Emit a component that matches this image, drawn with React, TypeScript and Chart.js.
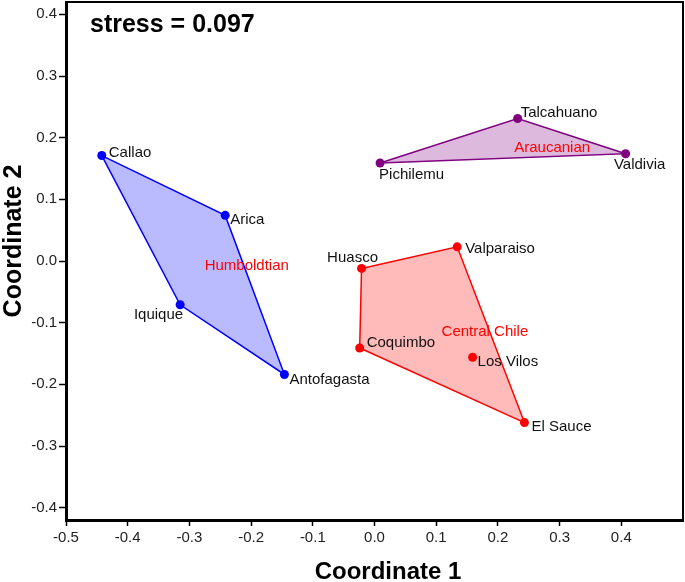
import React, { useEffect, useRef } from 'react';
import { Chart, registerables } from 'chart.js';

Chart.register(...registerables);

// ---------- data ----------
const siteNames = ['Callao', 'Arica', 'Iquique', 'Antofagasta', 'Huasco', 'Valparaiso', 'Coquimbo', 'Los Vilos', 'El Sauce', 'Pichilemu', 'Talcahuano', 'Valdivia'];
const coord1 = [-0.442, -0.242, -0.315, -0.146, -0.021, 0.134, -0.024, 0.159, 0.243, 0.009, 0.232, 0.407];
const coord2 = [0.171, 0.074, -0.071, -0.184, -0.012, 0.023, -0.141, -0.156, -0.262, 0.159, 0.231, 0.174];
const siteGroup = ['Humboldtian', 'Humboldtian', 'Humboldtian', 'Humboldtian', 'Central Chile', 'Central Chile', 'Central Chile', 'Central Chile', 'Central Chile', 'Araucanian', 'Araucanian', 'Araucanian'];

const groupNames = ['Humboldtian', 'Central Chile', 'Araucanian'];
const hullHumboldtian = ['Callao', 'Arica', 'Antofagasta', 'Iquique'];
const hullCentralChile = ['Huasco', 'Valparaiso', 'El Sauce', 'Coquimbo'];
const hullAraucanian = ['Pichilemu', 'Talcahuano', 'Valdivia'];
const groupLabelX = [-0.207, 0.179, 0.288];
const groupLabelY = [-0.008, -0.115, 0.183];

const xTicks = [-0.5, -0.4, -0.3, -0.2, -0.1, 0.0, 0.1, 0.2, 0.3, 0.4];
const yTicks = [-0.4, -0.3, -0.2, -0.1, 0.0, 0.1, 0.2, 0.3, 0.4];
const stressValue = 0.097;
const xTitle = 'Coordinate 1';
const yTitle = 'Coordinate 2';

// ---------- styles ----------
const groupColors = ['#0000FF', '#FF0000', '#800080'];
const groupFills = ['rgba(0,0,255,0.27)', 'rgba(255,0,0,0.27)', 'rgba(128,0,128,0.27)'];
// label placement per site: [dx, dy, align]
const labelPlacement: Record<string, [number, number, CanvasTextAlign]> = {
  Callao: [7, -3, 'left'],
  Arica: [5, 4, 'left'],
  Iquique: [3, 10, 'right'],
  Antofagasta: [5, 5, 'left'],
  Huasco: [-9, -11, 'center'],
  Valparaiso: [8, 2, 'left'],
  Coquimbo: [7, -5, 'left'],
  'Los Vilos': [5, 5, 'left'],
  'El Sauce': [7, 4, 'left'],
  Pichilemu: [-1, 12, 'left'],
  Talcahuano: [3, -6, 'left'],
  Valdivia: [14, 11, 'center'],
};

const FONT = '"Liberation Sans", Arial, Helvetica, sans-serif';

const hulls = [hullHumboldtian, hullCentralChile, hullAraucanian];

function pt(name: string) {
  const i = siteNames.indexOf(name);
  return { x: coord1[i], y: coord2[i] };
}

function zeroPad(s: any) {
  s.paddingTop = 0;
  s.paddingBottom = 0;
  s.paddingLeft = 0;
  s.paddingRight = 0;
}

const overlayPlugin = {
  id: 'overlay',
  afterDatasetsDraw(chart: any) {
    const { ctx, chartArea, scales } = chart;
    const xs = scales.x;
    const ys = scales.y;
    ctx.save();
    // top and right frame lines
    ctx.strokeStyle = '#000';
    ctx.lineWidth = 2;
    ctx.beginPath();
    ctx.moveTo(chartArea.left, chartArea.top);
    ctx.lineTo(chartArea.right, chartArea.top);
    ctx.lineTo(chartArea.right, chartArea.bottom);
    ctx.stroke();

    // site labels
    ctx.font = `15px ${FONT}`;
    ctx.fillStyle = '#111';
    ctx.textBaseline = 'middle';
    siteNames.forEach((name, i) => {
      const px = xs.getPixelForValue(coord1[i]);
      const py = ys.getPixelForValue(coord2[i]);
      const [dx, dy, align] = labelPlacement[name];
      ctx.textAlign = align;
      ctx.fillText(name, px + dx, py + dy);
    });

    // group labels
    ctx.fillStyle = '#FF0000';
    ctx.textAlign = 'center';
    groupNames.forEach((g, i) => {
      ctx.fillText(g, xs.getPixelForValue(groupLabelX[i]), ys.getPixelForValue(groupLabelY[i]));
    });

    // stress
    ctx.font = `bold 25px ${FONT}`;
    ctx.fillStyle = '#000';
    ctx.textAlign = 'left';
    ctx.fillText(`stress = ${stressValue.toFixed(3)}`, chartArea.left + 24, chartArea.top + 23);

    // axis titles
    ctx.font = `bold 24px ${FONT}`;
    ctx.textAlign = 'center';
    ctx.fillText(xTitle, 388, 572);
    ctx.save();
    ctx.translate(14, 241);
    ctx.rotate(-Math.PI / 2);
    ctx.font = `bold 25px ${FONT}`;
    ctx.fillText(yTitle, 0, 0);
    ctx.restore();
    ctx.restore();
  },
};

export default function App() {
  const ref = useRef<HTMLCanvasElement>(null);
  useEffect(() => {
    if (!ref.current) return;
    const datasets: any[] = [];
    groupNames.forEach((g, gi) => {
      const poly = hulls[gi].map(pt);
      poly.push(poly[0]);
      datasets.push({
        data: poly,
        showLine: true,
        fill: 'shape',
        borderColor: groupColors[gi],
        backgroundColor: groupFills[gi],
        borderWidth: 1.5,
        pointRadius: 0,
        tension: 0,
      });
    });
    groupNames.forEach((g, gi) => {
      const pts = siteNames.filter((_, i) => siteGroup[i] === g).map(pt);
      datasets.push({
        data: pts,
        showLine: false,
        pointRadius: 4.5,
        pointBackgroundColor: groupColors[gi],
        pointBorderColor: groupColors[gi],
        pointBorderWidth: 0,
      });
    });

    const tickFont = { family: FONT, size: 15 };
    const chart = new Chart(ref.current, {
      type: 'scatter',
      data: { datasets },
      plugins: [overlayPlugin],
      options: {
        animation: false,
        responsive: false,
        layout: { autoPadding: false, padding: { top: 2, right: 2, left: 0, bottom: 0 } },
        plugins: { legend: { display: false }, tooltip: { enabled: false } },
        scales: {
          x: {
            type: 'linear',
            min: -0.5,
            max: 0.5,
            afterBuildTicks: (s: any) => { s.ticks = xTicks.map((v) => ({ value: v })); },
            afterFit: (s: any) => { s.height = 62; zeroPad(s); },
            ticks: {
              autoSkip: false,
              maxRotation: 0,
              padding: 3,
              color: '#222',
              font: tickFont,
              callback: (v: any) => Number(v).toFixed(1),
            },
            grid: { display: true, drawOnChartArea: false, drawTicks: true, tickLength: 6, tickWidth: 1.5, tickColor: '#000' },
            border: { display: true, color: '#000', width: 3 },
          },
          y: {
            type: 'linear',
            min: -0.42,
            max: 0.42,
            afterBuildTicks: (s: any) => { s.ticks = yTicks.map((v) => ({ value: v })); },
            afterFit: (s: any) => { s.width = 66; zeroPad(s); },
            ticks: {
              autoSkip: false,
              padding: 2,
              color: '#222',
              font: tickFont,
              callback: (v: any) => Number(v).toFixed(1),
            },
            grid: { display: true, drawOnChartArea: false, drawTicks: true, tickLength: 7, tickWidth: 1.5, tickColor: '#000' },
            border: { display: true, color: '#000', width: 3 },
          },
        },
      } as any,
    });
    return () => chart.destroy();
  }, []);

  return (
    <div style={{ position: 'absolute', left: 0, top: 0, width: 685, height: 582, background: '#fff' }}>
      <canvas ref={ref} width={685} height={582} style={{ display: 'block', width: 685, height: 582 }} />
    </div>
  );
}
